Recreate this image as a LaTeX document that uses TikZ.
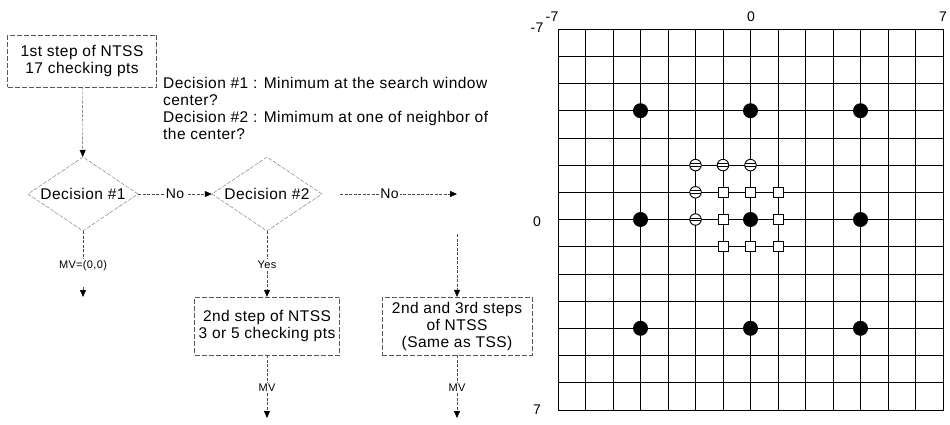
\documentclass[tikz,border=0pt]{standalone}
\usepackage{fontspec}
\setsansfont{Liberation Sans}[LetterSpace=3]
\usetikzlibrary{arrows.meta,positioning,shapes.geometric}

\begin{document}
\begin{tikzpicture}[
  x=1pt, y=-1pt,
  font=\sffamily\fontsize{15.5}{17}\selectfont,
  stepbox/.style={draw=black!65, dash pattern=on 5pt off 2pt, align=center, inner sep=3pt},
  decision/.style={diamond, draw=black!55, dash pattern=on 4pt off 1.5pt, aspect=1.5, inner sep=0pt, minimum width=110pt, minimum height=74pt},
  arrow/.style={-{Triangle[width=6pt,length=7pt,black]}, draw=black!70, dash pattern=on 3pt off 1.5pt},
  link/.style={draw=black!70, dash pattern=on 3pt off 1.5pt},
  lbl/.style={font=\sffamily\fontsize{11}{12}\selectfont, fill=white, inner sep=1.5pt},
  nolbl/.style={font=\sffamily\fontsize{14}{14}\selectfont, fill=white, inner sep=1.5pt},
  note/.style={align=left, anchor=north west, inner sep=0pt},
  axis/.style={font=\sffamily\fontsize{14}{14}\selectfont},
  grid/.style={line width=0.6pt},
  dot/.style={circle, fill=black, minimum size=15pt, inner sep=0pt},
  sq/.style={draw, fill=white, line width=0.9pt, minimum size=10pt, inner sep=0pt},
  ring/.style={circle, draw, fill=white, line width=0.9pt, minimum size=11.5pt, inner sep=0pt,
    path picture={\draw[line width=0.9pt]
      ([yshift=1.4pt]path picture bounding box.west) -- ([yshift=1.4pt]path picture bounding box.east)
      ([yshift=-1.4pt]path picture bounding box.west) -- ([yshift=-1.4pt]path picture bounding box.east);}}
]
\useasboundingbox (0,0) rectangle (950,425);

% flow chart
\node[stepbox, minimum width=149pt, minimum height=52pt] (step1) at (82,61) {1st step of NTSS\\17 checking pts};
\node[note] (why) at (163,77) {Decision \#1 : Minimum at the search window\\center?\\Decision \#2 : Mimimum at one of neighbor of\\the center?};

\node[decision] (dec1) at (83,194) {Decision \#1};
\node[decision] (dec2) at (267,194) {Decision \#2};
\coordinate (turn) at (457,194);

\node[stepbox, minimum width=145pt, minimum height=58pt] (step2) at (267,326) {2nd step of NTSS\\3 or 5 checking pts};
\node[stepbox, minimum width=150pt, minimum height=58pt] (step3) at (457,326) {2nd and 3rd steps\\of NTSS\\(Same as TSS)};

\node[lbl] (mv0) at (83,266) {MV=(0,0)};
\coordinate (end0) at (83,297);
\node[lbl] (yes) at (267,265) {Yes};
\node[lbl] (mv2) at (267,388) {MV};
\node[lbl] (mv3) at (457,388) {MV};
\coordinate (end2) at (267,418);
\coordinate (end3) at (457,418);

\draw[arrow] (step1) -- (dec1);
\draw[arrow] (dec1) -- node[nolbl] {No} (dec2);
\draw[arrow, shorten <=18pt] (dec2) -- node[nolbl] {No} (turn);
\draw[arrow, shorten <=40pt] (turn) -- (step3);
\draw[link] (dec1) -- (mv0);
\draw[arrow, shorten <=14pt] (mv0) -- (end0);
\draw[link] (dec2) -- (yes);
\draw[arrow] (yes) -- (step2);
\draw[link] (step2) -- (mv2);
\draw[arrow] (mv2) -- (end2);
\draw[link] (step3) -- (mv3);
\draw[arrow] (mv3) -- (end3);

% search window
\begin{scope}[shift={(750.5,219.5)}, x=27.5pt, y=-27.2pt]
  \foreach \k in {-7,...,7} {
    \draw[grid] (\k,-7) -- (\k,7);
    \draw[grid] (-7,\k) -- (7,\k);
  }
  \foreach \k in {-4,4} \draw[line width=0.9pt] (\k,-7) -- (\k,7);
  \draw[line width=1.3pt] (0,-7) -- (0,7) (-7,0) -- (7,0);
  \draw[line width=0.8pt] (-7,-7) rectangle (7,7);
  \foreach \x in {-4,0,4}
    \foreach \y in {-4,0,4}
      \node[dot] (p\x\y) at (\x,\y) {};
  \foreach \x/\y in {-1/-1,0/-1,1/-1,-1/0,1/0,-1/1,0/1,1/1}
    \node[sq] (s\x\y) at (\x,\y) {};
  \foreach \x/\y in {-2/-2,-1/-2,0/-2,-2/-1,-2/0}
    \node[ring] (r\x\y) at (\x,\y) {};
\end{scope}

\node[axis] (xmin) at (552,17) {-7};
\node[axis] (xmid) at (751,17) {0};
\node[axis] (xmax) at (943,17) {7};
\node[axis] (ymin) at (537,28) {-7};
\node[axis] (ymid) at (537,222) {0};
\node[axis] (ymax) at (537,410) {7};

\end{tikzpicture}
\end{document}
